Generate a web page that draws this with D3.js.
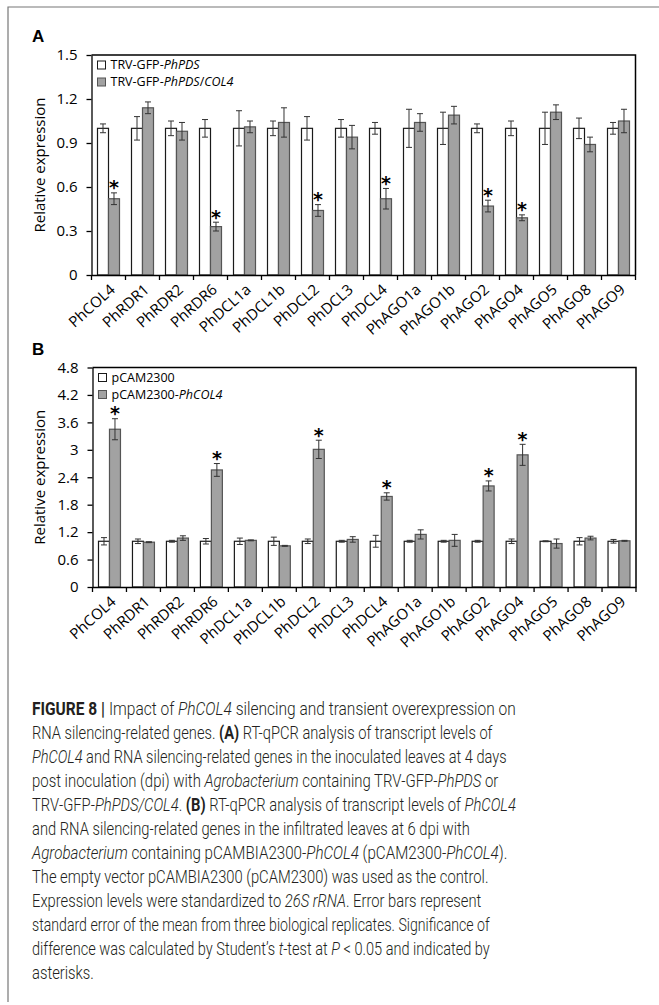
<!DOCTYPE html>
<html>
<head>
<meta charset="utf-8">
<script src="https://cdn.jsdelivr.net/npm/d3@7"></script>
<style>
  body { margin: 0; background: #fff; }
  svg { display: block; }
</style>
</head>
<body>
<div id="chart"></div>
<script>
// genes on the x axis (same for both panels)
const genes = ['PhCOL4', 'PhRDR1', 'PhRDR2', 'PhRDR6', 'PhDCL1a', 'PhDCL1b', 'PhDCL2', 'PhDCL3',
  'PhDCL4', 'PhAGO1a', 'PhAGO1b', 'PhAGO2', 'PhAGO4', 'PhAGO5', 'PhAGO8', 'PhAGO9'];

// Panel A - VIGS
const ticksA = [0, 0.3, 0.6, 0.9, 1.2, 1.5];
const ctrlA = [1, 1, 1, 1, 1, 1, 1, 1, 1, 1, 1, 1, 1, 1, 1, 1];
const ctrlErrA = [0.03, 0.08, 0.05, 0.06, 0.12, 0.05, 0.08, 0.06, 0.04, 0.13, 0.11, 0.03, 0.05, 0.11, 0.07, 0.04];
const trtA = [0.52, 1.14, 0.98, 0.33, 1.01, 1.04, 0.44, 0.94, 0.52, 1.04, 1.09, 0.47, 0.39, 1.11, 0.89, 1.05];
const trtErrA = [0.04, 0.04, 0.06, 0.03, 0.04, 0.10, 0.04, 0.08, 0.07, 0.06, 0.06, 0.04, 0.02, 0.05, 0.05, 0.08];
const sigA = ['PhCOL4', 'PhRDR6', 'PhDCL2', 'PhDCL4', 'PhAGO2', 'PhAGO4'];

// Panel B - overexpression
const ticksB = [0, 0.6, 1.2, 1.8, 2.4, 3, 3.6, 4.2, 4.8];
const ctrlB = [1, 1, 1, 1, 1, 1, 1, 1, 1, 1, 1, 1, 1, 1, 1, 1];
const ctrlErrB = [0.08, 0.05, 0.02, 0.06, 0.07, 0.09, 0.05, 0.02, 0.13, 0.02, 0.02, 0.02, 0.05, 0.01, 0.08, 0.04];
const trtB = [3.45, 0.98, 1.07, 2.56, 1.02, 0.90, 3.01, 1.04, 1.98, 1.15, 1.02, 2.21, 2.89, 0.95, 1.07, 1.01];
const trtErrB = [0.23, 0.01, 0.05, 0.14, 0.01, 0.01, 0.20, 0.06, 0.08, 0.10, 0.13, 0.11, 0.23, 0.10, 0.04, 0.01];
const sigB = ['PhCOL4', 'PhRDR6', 'PhDCL2', 'PhDCL4', 'PhAGO2', 'PhAGO4'];

// legend entries: [plain, italic, plain, italic]
const legendA = [['TRV-GFP-', 'PhPDS'], ['TRV-GFP-', 'PhPDS', '/', 'COL4']];
const legendB = [['pCAM2300'], ['pCAM2300-', 'PhCOL4']];

// caption lines, segments of [text, style]
const caption = [
  [['FIGURE 8 | ', 'b'], ['Impact of ', ''], ['PhCOL4', 'i'], [' silencing and transient overexpression on', '']],
  [['RNA silencing-related genes. ', ''], ['(A)', 'b'], [' RT-qPCR analysis of transcript levels of', '']],
  [['PhCOL4', 'i'], [' and RNA silencing-related genes in the inoculated leaves at 4 days', '']],
  [['post inoculation (dpi) with ', ''], ['Agrobacterium', 'i'], [' containing TRV-GFP-', ''], ['PhPDS', 'i'], [' or', '']],
  [['TRV-GFP-', ''], ['PhPDS/COL4', 'i'], ['. ', ''], ['(B)', 'b'], [' RT-qPCR analysis of transcript levels of ', ''], ['PhCOL4', 'i']],
  [['and RNA silencing-related genes in the infiltrated leaves at 6 dpi with', '']],
  [['Agrobacterium', 'i'], [' containing pCAMBIA2300-', ''], ['PhCOL4', 'i'], [' (pCAM2300-', ''], ['PhCOL4', 'i'], [').', '']],
  [['The empty vector pCAMBIA2300 (pCAM2300) was used as the control.', '']],
  [['Expression levels were standardized to ', ''], ['26S rRNA', 'i'], ['. Error bars represent', '']],
  [['standard error of the mean from three biological replicates. Significance of', '']],
  [['difference was calculated by Student\u2019s ', ''], ['t', 'i'], ['-test at ', ''], ['P', 'i'], [' < 0.05 and indicated by', '']],
  [['asterisks.', '']]
];
// right end of each caption line (last line is short, keeps the common squeeze)
const captionEnds = [516, 493, 507, 499, 516, 470, 508, 489, 482, 490, 490, null];

const width = 659, height = 1005;
const chartFont = "'Open Sans', 'Segoe UI', sans-serif";
const white = '#ffffff', grey = '#a2a2a2';

const svg = d3.select('#chart').append('svg')
  .attr('width', width)
  .attr('height', height);

// figure frame
svg.append('path')
  .attr('d', 'M8,1002V7H659')
  .attr('fill', 'none')
  .attr('stroke', '#777')
  .attr('stroke-width', 1.2);

function drawPanel(p) {
  const g = svg.append('g');

  const x = d3.scaleBand()
    .domain(genes)
    .range([p.left, p.right])
    .paddingInner(0.353)
    .paddingOuter(0.1765);
  const x1 = d3.scaleBand()
    .domain([0, 1])
    .range([0, x.bandwidth()]);
  const y = d3.scaleLinear()
    .domain([0, p.ticks[p.ticks.length - 1]])
    .range([p.bottom, p.top]);

  // panel letter
  g.append('text')
    .attr('x', 32).attr('y', p.top - 13)
    .attr('font-family', "'Liberation Sans', Arial, sans-serif")
    .attr('font-weight', 'bold')
    .attr('font-size', 17)
    .text(p.letter);

  const rows = genes.map((name, i) => ({
    name, i,
    c: p.ctrl[i], ce: p.ctrlErr[i],
    t: p.trt[i], te: p.trtErr[i],
    sig: p.sig.includes(name)
  }));

  const grp = g.append('g').selectAll('g')
    .data(rows)
    .join('g')
    .attr('transform', d => `translate(${x(d.name)},0)`);

  // control bars
  grp.append('rect')
    .attr('x', x1(0))
    .attr('y', d => y(d.c))
    .attr('width', x1.bandwidth())
    .attr('height', d => y(0) - y(d.c))
    .attr('fill', white)
    .attr('stroke', '#1a1a1a')
    .attr('stroke-width', 1.2);

  // treatment bars
  grp.append('rect')
    .attr('x', x1(1))
    .attr('y', d => y(d.t))
    .attr('width', x1.bandwidth())
    .attr('height', d => y(0) - y(d.t))
    .attr('fill', grey)
    .attr('stroke', '#555')
    .attr('stroke-width', 1.2);

  // error bars
  const errs = [
    { k: 0, v: d => d.c, e: d => d.ce },
    { k: 1, v: d => d.t, e: d => d.te }
  ];
  errs.forEach(s => {
    const cx = x1(s.k) + x1.bandwidth() / 2;
    const eb = grp.append('g').attr('stroke', '#333').attr('stroke-width', 1);
    eb.append('line')
      .attr('x1', cx).attr('x2', cx)
      .attr('y1', d => y(s.v(d) - s.e(d)))
      .attr('y2', d => y(s.v(d) + s.e(d)));
    eb.append('line')
      .attr('x1', cx - 3).attr('x2', cx + 3)
      .attr('y1', d => y(s.v(d) + s.e(d)))
      .attr('y2', d => y(s.v(d) + s.e(d)));
    eb.append('line')
      .attr('x1', cx - 3).attr('x2', cx + 3)
      .attr('y1', d => y(s.v(d) - s.e(d)))
      .attr('y2', d => y(s.v(d) - s.e(d)));
  });

  // significance stars
  grp.filter(d => d.sig)
    .append('text')
    .attr('x', x1(1) + x1.bandwidth() / 2)
    .attr('y', d => y(d.t + d.te) + 1.5)
    .attr('text-anchor', 'middle')
    .attr('font-family', "'DejaVu Sans', sans-serif")
    .attr('font-weight', 'bold')
    .attr('font-size', 19)
    .attr('fill', '#000')
    .text('*');

  // y axis
  const yAxis = g.append('g')
    .attr('transform', `translate(${p.left},0)`)
    .call(d3.axisLeft(y).tickValues(p.ticks).tickFormat(d => String(d)).tickSize(5).tickSizeOuter(0).tickPadding(9));
  yAxis.selectAll('text')
    .attr('font-family', chartFont)
    .attr('font-size', 15)
    .attr('fill', '#000');
  yAxis.selectAll('line,path').attr('stroke', '#000').attr('stroke-width', 1.3);

  // x axis: line, ticks on category boundaries, rotated labels
  const xAxis = g.append('g')
    .attr('transform', `translate(0,${p.bottom})`)
    .call(d3.axisBottom(x).tickSize(0).tickSizeOuter(0).tickPadding(0));
  xAxis.select('.domain').attr('stroke', '#000').attr('stroke-width', 1.3);
  xAxis.selectAll('.tick text')
    .attr('font-family', chartFont)
    .attr('font-size', 15)
    .attr('fill', '#000')
    .attr('text-anchor', 'end')
    .attr('transform', 'translate(4,12) rotate(-42)')
    .attr('dy', '0.35em');
  const bounds = d3.range(genes.length + 1).map(i => p.left + i * x.step());
  xAxis.selectAll('.bnd')
    .data(bounds)
    .join('line')
    .attr('class', 'bnd')
    .attr('x1', d => d).attr('x2', d => d)
    .attr('y1', 0).attr('y2', 5)
    .attr('stroke', '#000')
    .attr('stroke-width', 1.3);

  // plot frame (top and right)
  g.append('path')
    .attr('d', `M${p.left},${p.top}H${p.right}V${p.bottom}`)
    .attr('fill', 'none')
    .attr('stroke', '#000')
    .attr('stroke-width', 1.5);

  // axis title
  g.append('text')
    .attr('transform', `translate(40,${(p.top + p.bottom) / 2}) rotate(-90)`)
    .attr('text-anchor', 'middle')
    .attr('dy', '0.35em')
    .attr('font-family', chartFont)
    .attr('font-size', 15)
    .text('Relative expression');

  // legend
  const lg = g.append('g')
    .selectAll('g')
    .data(p.legend)
    .join('g')
    .attr('transform', (d, i) => `translate(${p.left + 6},${p.top + 10 + i * 17})`);
  lg.append('rect')
    .attr('x', 0).attr('y', -4)
    .attr('width', 8).attr('height', 8)
    .attr('fill', (d, i) => i === 0 ? white : grey)
    .attr('stroke', (d, i) => i === 0 ? '#1a1a1a' : '#555')
    .attr('stroke-width', 1);
  const lt = lg.append('text')
    .attr('x', 13).attr('dy', '0.35em')
    .attr('font-family', chartFont)
    .attr('font-size', 12.5);
  lt.selectAll('tspan')
    .data(d => d)
    .join('tspan')
    .attr('font-style', (d, i) => i % 2 ? 'italic' : 'normal')
    .text(d => d);
}

drawPanel({
  letter: 'A', left: 91.5, right: 635.5, top: 55, bottom: 275,
  ticks: ticksA, ctrl: ctrlA, ctrlErr: ctrlErrA, trt: trtA, trtErr: trtErrA, sig: sigA, legend: legendA
});
drawPanel({
  letter: 'B', left: 92.5, right: 636, top: 367.5, bottom: 587,
  ticks: ticksB, ctrl: ctrlB, ctrlErr: ctrlErrB, trt: trtB, trtErr: trtErrB, sig: sigB, legend: legendB
});

// caption - each line squeezed horizontally to its width in the original
const cap = svg.append('g')
  .attr('font-family', "Roboto, 'Liberation Sans', sans-serif")
  .attr('font-weight', 300)
  .attr('font-size', 18)
  .attr('fill', '#231f20');
const capLines = cap.selectAll('text')
  .data(caption)
  .join('text')
  .attr('x', 0)
  .attr('y', 0);
capLines.selectAll('tspan')
  .data(d => d)
  .join('tspan')
  .attr('font-weight', d => d[1] === 'b' ? 700 : null)
  .attr('font-style', d => d[1] === 'i' ? 'italic' : null)
  .text(d => d[0]);
const scales = [];
capLines.each(function (d, i) {
  const w = this.getComputedTextLength();
  scales[i] = captionEnds[i] ? (captionEnds[i] - 32) / w : null;
});
const meanScale = d3.mean(scales.filter(s => s));
capLines.attr('transform', (d, i) =>
  `translate(32,${715 + i * 24}) scale(${scales[i] || meanScale},1)`);
</script>
</body>
</html>
